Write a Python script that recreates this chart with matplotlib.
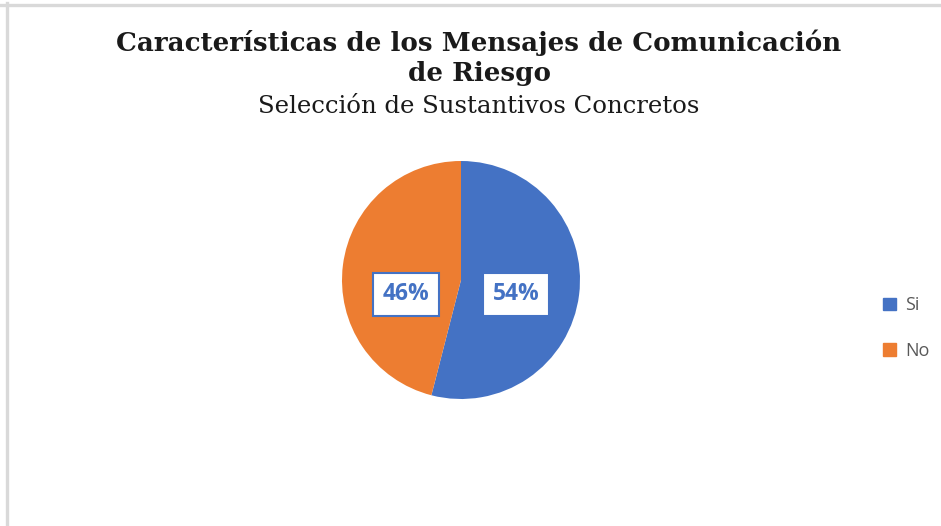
import matplotlib
matplotlib.use("Agg")
import matplotlib.pyplot as plt
from matplotlib.lines import Line2D
import numpy as np

categories = ["Si", "No"]
values = [54, 46]
colors = ["#4472C4", "#ED7D31"]
title_line1 = "Características de los Mensajes de Comunicación"
title_line2 = "de Riesgo"
subtitle = "Selección de Sustantivos Concretos"

W, H = 941, 526
fig = plt.figure(figsize=(W / 100, H / 100), dpi=100)
fig.patch.set_facecolor("white")

# frame lines (top and left)
fig.add_artist(Line2D([0, 1], [1 - 4.5 / H, 1 - 4.5 / H], transform=fig.transFigure,
                      color="#d9d9d9", lw=2.4))
fig.add_artist(Line2D([6.5 / W, 6.5 / W], [0, 1 - 3 / H], transform=fig.transFigure,
                      color="#d9d9d9", lw=2.4))

# titles
fig.text(479 / W, 1 - 43 / H, title_line1, ha="center", va="center",
         fontfamily="DejaVu Serif", fontweight="bold", fontsize=18.8, color="#1a1a1a")
fig.text(479 / W, 1 - 74 / H, title_line2, ha="center", va="center",
         fontfamily="DejaVu Serif", fontweight="bold", fontsize=18.8, color="#1a1a1a")
fig.text(479 / W, 1 - 106 / H, subtitle, ha="center", va="center",
         fontfamily="DejaVu Serif", fontsize=17.6, color="#1a1a1a")

# pie axes: center (461, 280), radius 119 px
R = 119
cx, cy = 461, 280
ax = fig.add_axes([(cx - R) / W, 1 - (cy + R) / H, 2 * R / W, 2 * R / H])
ax.set_aspect("equal")

wedges, texts, autotexts = ax.pie(
    values, colors=colors, startangle=90, counterclock=False,
    autopct=lambda p: f"{p:.0f}%", pctdistance=0.47, radius=1,
    wedgeprops=dict(linewidth=0),
    textprops=dict(color="#4472C4", fontsize=16.5, fontweight="bold",
                   fontfamily="Open Sans"),
)
for t in autotexts:
    x, y = t.get_position()
    t.set_position((x, -0.12))
    t.set_bbox(dict(boxstyle="square,pad=0.42", facecolor="white",
                    edgecolor="#4472C4", linewidth=1.5))
ax.set_xlim(-1, 1)
ax.set_ylim(-1, 1)
ax.axis("off")

# legend
handles = [plt.Rectangle((0, 0), 1, 1, color=c) for c in colors]
leg = fig.legend(handles, categories, loc="center left",
                 bbox_to_anchor=(867 / W, 1 - 328 / H), frameon=False,
                 handlelength=0.7, handleheight=0.7, handletextpad=0.5,
                 labelspacing=1.5,
                 prop=dict(family="Open Sans", size=13))
for t in leg.get_texts():
    t.set_color("#595959")

fig.savefig("out.png", dpi=100, facecolor="white")
